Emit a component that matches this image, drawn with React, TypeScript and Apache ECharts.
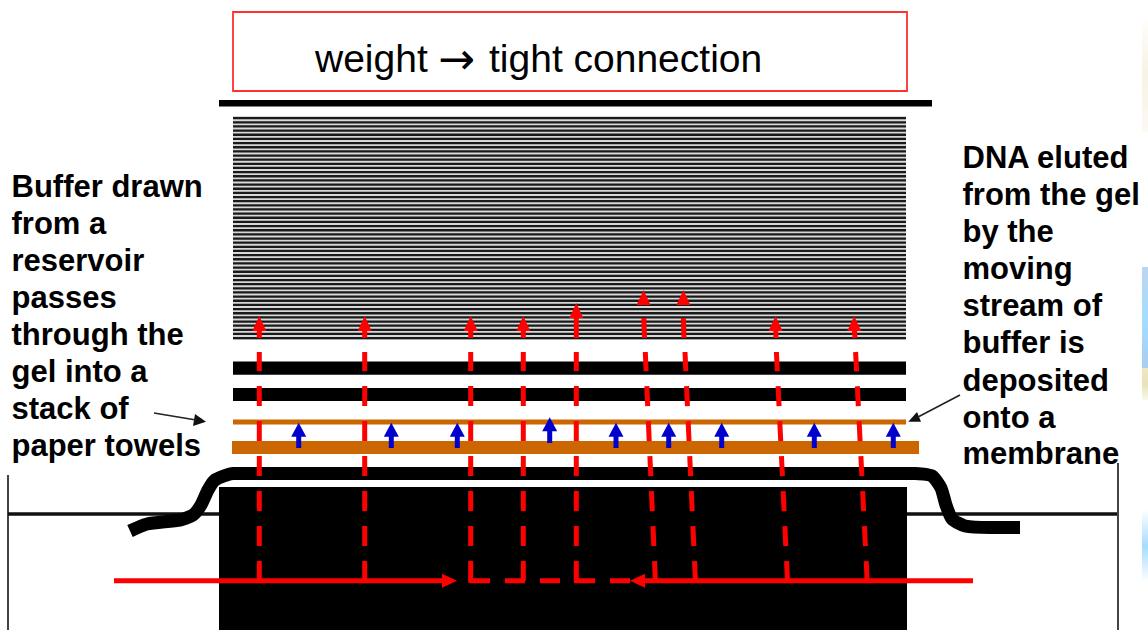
import React, { useEffect, useRef } from "react";
import * as echarts from "echarts";

const WIDTH = 1148;
const HEIGHT = 630;

const titleParts = ["weight", "→", "tight connection"];
const titlePartX = [315, 438, 489];
const leftLabels = ["Buffer drawn", "from a", "reservoir", "passes", "through the", "gel into a", "stack of", "paper towels"];
const leftLabelRows = [186, 223, 260, 297, 334, 371, 408, 445];
const rightLabels = ["DNA eluted", "from the gel", "by the", "moving", "stream of", "buffer is", "deposited", "onto a", "membrane"];
const rightLabelRows = [157, 194, 231, 268, 305, 342, 380, 417, 453];

const stripeRows = [
  117.0, 121.2, 125.3, 129.5, 133.6, 137.8, 141.9, 146.1, 150.2, 154.4, 158.5, 162.7, 166.8, 171.0, 175.1, 179.3, 183.4, 187.6,
  191.7, 195.9, 200.0, 204.2, 208.3, 212.5, 216.6, 220.8, 224.9, 229.1, 233.2, 237.4, 241.5, 245.7, 249.8, 254.0, 258.1, 262.3,
  266.4, 270.6, 274.7, 278.9, 283.0, 287.2, 291.3, 295.5, 299.6, 303.8, 307.9, 312.1, 316.2, 320.4, 324.5, 328.7, 332.8, 337.0,
];

// x0, y0, x1, y1
const stripeBacking = [[233, 116, 906, 340]];
const blackBars = [
  [219, 100, 932, 106.5],
  [233, 361.5, 906, 374.8],
  [233, 388, 906, 401],
  [219, 487, 907, 630],
];
const orangeBars = [
  [233, 419.5, 906, 424.5],
  [232, 441, 919, 454],
];
const titleBox = [233, 12, 907, 91];

const wick = [
  [130, 531], [147, 524], [180, 520], [193, 515], [201, 505], [208, 490], [215, 480], [233, 473.5],
  [915, 473.5], [932, 476], [941, 488], [946, 505], [952, 519], [965, 526], [990, 527.5], [1020, 527.5],
];
const trayLines = [
  [[8, 475], [8, 630]],
  [[8, 514], [219, 514]],
  [[907, 514], [1118, 514]],
  [[1118, 463], [1118, 630]],
];

// bottom x, top x of the dashed red buffer paths
const redColumns = [
  [259.3, 259.3], [364.7, 364.7], [470.7, 470.7], [523.3, 523.3], [576.3, 576.3],
  [655.4, 645.3], [695.4, 685], [787.5, 776.4], [867.2, 855.6],
];
const redFlow = [
  [[114, 580.7], [443, 580.7]],
  [[973, 580.7], [644, 580.7]],
];
const redCorners = [
  [468.4, 578.5, 473, 583],
  [574, 578.5, 578.6, 583],
];
const redDashRun = [[470, 580.7], [630, 580.7]];
const redFlowHeads = [
  [[457, 580.7], [442, 573.7], [442, 587.7]],
  [[630, 580.7], [645, 573.7], [645, 587.7]],
];
// x0, y0 (top), x1, y1 (bottom)
const redShafts = [
  [259.3, 326, 259.3, 338], [364.7, 326, 364.7, 338], [470.7, 326, 470.7, 338], [523.3, 326, 523.3, 338],
  [576.3, 313, 576.3, 338], [643.8, 318, 644.5, 338], [683.4, 318, 684, 338], [775.6, 326, 776, 338], [854.2, 326, 855, 338],
];
// x, tip y
const redHeads = [
  [259.3, 316], [364.7, 316], [470.7, 316], [523.3, 316], [576.3, 303],
  [643.6, 290], [683.4, 290], [775.5, 316], [854.2, 316],
];
// x, tip y, bottom y
const blueArrows = [
  [298.7, 422.7, 448], [391.3, 422.7, 448], [457.3, 422.7, 448], [549.7, 417.3, 443], [616, 422.7, 448],
  [668.7, 422.7, 448], [721.7, 422.7, 448], [814.3, 422.7, 448], [893.3, 422.7, 448],
];
const leaderLines = [
  [[154, 413], [196, 420]],
  [[960, 395], [918, 417]],
];
const leaderHeads = [
  [[206, 421.7], [195, 414], [193, 426]],
  [[908.3, 421.7], [917, 412], [921, 421.7]],
];
// x0, y0, x1, y1
const sidePatches = [
  [1142, 20, 1148, 132],
  [1142, 267, 1148, 368],
  [1142, 368, 1148, 400],
  [1142, 510, 1148, 582],
];
const sidePatchColors = [
  ["#fffdfa", "#f8f2e6", "#fdf9f3"],
  ["#bcd6f0", "#a6dcff", "#a8cdf0"],
  ["#efe8c0", "#e8e2b8", "#fbf8ec"],
  ["#ffffff", "#a6dcff", "#ffffff"],
];

const rectSeries = (name: string, data: number[][], fill: string, z: number) => ({
  type: "custom",
  name,
  z,
  silent: true,
  clip: false,
  data,
  renderItem: (_: any, api: any) => {
    const a = api.coord([api.value(0), api.value(1)]);
    const b = api.coord([api.value(2), api.value(3)]);
    return { type: "rect", shape: { x: a[0], y: a[1], width: b[0] - a[0], height: b[1] - a[1] }, style: { fill } };
  },
});

const triangleSeries = (name: string, tris: number[][][], fill: string, z: number) => ({
  type: "custom",
  name,
  z,
  silent: true,
  clip: false,
  data: tris.map((t) => t.flat()),
  renderItem: (_: any, api: any) => {
    const points = [0, 2, 4].map((i) => api.coord([api.value(i), api.value(i + 1)]));
    return { type: "polygon", shape: { points }, style: { fill } };
  },
});

const arrowHeadSeries = (name: string, heads: number[][], fill: string, z: number, length: number, half: number) => ({
  type: "custom",
  name,
  z,
  silent: true,
  clip: false,
  data: heads,
  renderItem: (_: any, api: any) => {
    const x = api.value(0);
    const tip = api.value(1);
    const points = [api.coord([x, tip]), api.coord([x - half, tip + length]), api.coord([x + half, tip + length])];
    return { type: "polygon", shape: { points }, style: { fill } };
  },
});

const lineSeries = (name: string, pts: number[][], color: string, width: number, z: number, extra: any = {}) => {
  const { smooth, ...style } = extra;
  return {
    type: "line",
    name,
    z,
    silent: true,
    clip: false,
    symbol: "none",
    smooth: smooth ?? false,
    data: pts,
    lineStyle: { color, width, cap: "butt", join: "round", ...style },
  };
};

const textItem = (text: string, x: number, y: number, font: string) => ({
  type: "text",
  z: 50,
  silent: true,
  style: { text, x, y, font, fill: "#000000", verticalAlign: "middle", align: "left" },
});

export default function App() {
  const ref = useRef<HTMLDivElement>(null);
  useEffect(() => {
    document.body.style.margin = "0";
    const chart = echarts.init(ref.current!, undefined, { renderer: "svg" });
    const boldFont = 'bold 31px "Liberation Sans", Arial, sans-serif';
    const titleFont = '39px "Liberation Sans", Arial, sans-serif';
    const arrowFont = '44px "DejaVu Sans", sans-serif';
    const series: any[] = [
      ...trayLines.map((l, i) => lineSeries(`tray${i}`, l, i === 1 || i === 2 ? "#111111" : "#444444", i === 1 || i === 2 ? 3.5 : 2, 1)),
      {
        type: "custom",
        name: "side",
        z: 1,
        silent: true,
        clip: false,
        data: sidePatches.map((p, i) => [...p, i]),
        renderItem: (_: any, api: any) => {
          const a = api.coord([api.value(0), api.value(1)]);
          const b = api.coord([api.value(2), api.value(3)]);
          const c = sidePatchColors[api.value(4)];
          return {
            type: "rect",
            shape: { x: a[0], y: a[1], width: b[0] - a[0], height: b[1] - a[1] },
            style: {
              fill: new echarts.graphic.LinearGradient(0, 0, 0, 1, [
                { offset: 0, color: c[0] },
                { offset: 0.5, color: c[1] },
                { offset: 1, color: c[2] },
              ]),
            },
          };
        },
      },
      {
        type: "custom",
        name: "titleBox",
        z: 2,
        silent: true,
        clip: false,
        data: [titleBox],
        renderItem: (_: any, api: any) => {
          const a = api.coord([api.value(0), api.value(1)]);
          const b = api.coord([api.value(2), api.value(3)]);
          return {
            type: "rect",
            shape: { x: a[0], y: a[1], width: b[0] - a[0], height: b[1] - a[1] },
            style: { fill: "none", stroke: "#ff3030", lineWidth: 1.8 },
          };
        },
      },
      rectSeries("stripeBacking", stripeBacking, "#d8d8d8", 2),
      {
        type: "custom",
        name: "stripes",
        z: 2,
        silent: true,
        clip: false,
        data: stripeRows.map((y) => [y]),
        renderItem: (_: any, api: any) => {
          const a = api.coord([233, api.value(0)]);
          const b = api.coord([906, api.value(0)]);
          return {
            type: "rect",
            shape: { x: a[0], y: a[1], width: b[0] - a[0], height: 2.3 },
            style: { fill: "#1a1a1a" },
          };
        },
      },
      rectSeries("blackBars", blackBars, "#000000", 3),
      rectSeries("orangeBars", orangeBars, "#cc6600", 3),
      lineSeries("wick", wick, "#000000", 13, 3, { smooth: 0.2 }),
      ...redColumns.map((c, i) =>
        lineSeries(`col${i}`, [[c[0], 581], [c[1], 352]], "#ff0000", 5, 5, { type: [20, 15] })
      ),
      ...redFlow.map((l, i) => lineSeries(`flow${i}`, l, "#ff0000", 5, 5)),
      lineSeries("flowDash", redDashRun, "#ff0000", 5, 5, { type: [20, 15] }),
      rectSeries("corners", redCorners, "#ff0000", 5),
      triangleSeries("flowHeads", redFlowHeads, "#ff0000", 5),
      ...redShafts.map((s, i) => lineSeries(`shaft${i}`, [[s[0], s[1]], [s[2], s[3]]], "#ff0000", 5, 5)),
      arrowHeadSeries("redHeads", redHeads, "#ff0000", 5, 15, 7),
      ...blueArrows.map((b, i) => lineSeries(`blue${i}`, [[b[0], b[1] + 8], [b[0], b[2]]], "#0000cc", 5, 5)),
      arrowHeadSeries("blueHeads", blueArrows, "#0000cc", 5, 14, 7.5),
      ...leaderLines.map((l, i) => lineSeries(`leader${i}`, l, "#222222", 1.6, 5)),
      triangleSeries("leaderHeads", leaderHeads, "#111111", 5),
    ];
    chart.setOption({
      animation: false,
      backgroundColor: "#ffffff",
      grid: { left: 0, right: 0, top: 0, bottom: 0, containLabel: false },
      xAxis: { type: "value", min: 0, max: WIDTH, show: false },
      yAxis: { type: "value", min: 0, max: HEIGHT, inverse: true, show: false },
      series,
      graphic: [
        ...titleParts.map((t, i) => textItem(t, titlePartX[i], 58.5, i === 1 ? arrowFont : titleFont)),
        ...leftLabels.map((t, i) => textItem(t, 11.5, leftLabelRows[i], boldFont)),
        ...rightLabels.map((t, i) => textItem(t, 962.5, rightLabelRows[i], boldFont)),
      ],
    });
    return () => chart.dispose();
  }, []);
  return <div ref={ref} style={{ width: WIDTH, height: HEIGHT, display: "block" }} />;
}
